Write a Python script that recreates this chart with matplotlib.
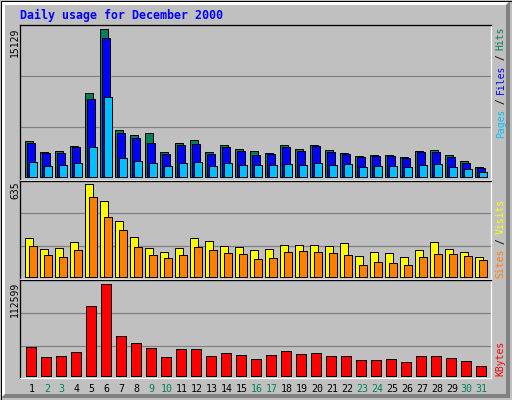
import matplotlib
matplotlib.use("Agg")
import matplotlib.pyplot as plt
from matplotlib.patches import Polygon, Rectangle

days = list(range(1, 32))
weekend = [2, 3, 9, 10, 16, 17, 23, 24, 30, 31]

hits = [3662, 2533, 2636, 3180, 8585, 15129, 4790, 4277, 4482, 2533, 3456, 3764, 2533, 3251, 2841, 2636,
        2430, 3251, 2841, 3251, 2738, 2430, 2123, 2225, 2225, 2020, 2636, 2738, 2225, 1610, 995]
files = [3456, 2430, 2430, 3046, 7970, 14226, 4482, 3970, 3456, 2328, 3251, 3354, 2328, 3046, 2636, 2225,
         2328, 3046, 2636, 3149, 2533, 2328, 2020, 2123, 2123, 1918, 2533, 2533, 2020, 1405, 892]
pages = [1508, 1097, 1200, 1405, 3046, 8175, 1918, 1610, 1405, 1097, 1405, 1508, 1097, 1405, 1200, 1200,
         1200, 1303, 1200, 1405, 1200, 1303, 995, 1097, 1097, 995, 1200, 1303, 995, 790, 482]
visits = [263, 187, 194, 236, 635, 518, 380, 270, 194, 167, 194, 263, 242, 208, 201, 180,
          187, 215, 215, 215, 208, 229, 139, 167, 160, 132, 180, 236, 187, 167, 132]
sites = [208, 146, 132, 180, 545, 408, 318, 201, 146, 125, 146, 201, 180, 160, 153, 118,
         125, 167, 174, 167, 160, 146, 77, 98, 91, 77, 132, 153, 153, 139, 112]
kbytes = [34872, 22593, 23821, 28732, 85216, 112599, 48379, 39784, 33644, 22593, 32416, 32416, 23821, 27505,
          25049, 20137, 25049, 29960, 26277, 27505, 23821, 23821, 18909, 18909, 20137, 16454, 23821, 23821,
          21365, 17682, 11542]

GREY = "#C0C0C0"
PX = 0.72  # one pixel in points at 100 dpi
MONO = "DejaVu Sans Mono"

fig = plt.figure(figsize=(5.12, 4.0), dpi=100)
fig.patch.set_facecolor(GREY)

# background axes in pixel coordinates (y down) for frame and labels
bg = fig.add_axes([0, 0, 1, 1], zorder=0)
bg.set_xlim(0, 512); bg.set_ylim(400, 0); bg.axis("off")
bg.add_patch(Rectangle((0, 0), 512, 400, color=GREY))
bg.add_patch(Polygon([(1, 1), (510, 1), (506, 5), (5, 5), (5, 394), (1, 398)], color="white", lw=0))
bg.add_patch(Polygon([(510, 1), (510, 398), (1, 398), (5, 394), (506, 394), (506, 5)], color="#808080", lw=0))
bg.add_patch(Rectangle((0.5, 0.5), 511, 399, fill=False, ec="black", lw=PX))

bg.text(20, 15, "Daily usage for December 2000", color="#0000FF", family=MONO, weight="bold",
        fontsize=8.4, ha="left", va="center")


def vlabel(parts, x, ybottom, size=7, pitch=5.5):
    k = 0
    for s, c in parts:
        yc = ybottom - (k + len(s) / 2) * pitch
        bg.text(x, yc, s, color=c, family=MONO, fontsize=size, rotation=90, ha="center", va="center")
        k += len(s)


vlabel([("Pages", "#00C0FF"), (" / ", "black"), ("Files", "#0000FF"), (" / ", "black"), ("Hits", "#00805C")],
       500.7, 137)
vlabel([("Sites", "#FF8000"), (" / ", "black"), ("Visits", "#FFFF00")], 500.7, 276.7)
vlabel([("KBytes", "#FF0000")], 500.7, 376.7, pitch=6.0)

x0, x1 = 20, 491  # panel left/right in pixels
day0 = 25         # pixel of day 1 bar start
step = 15         # pixels per day


def panel(top, bot, base, peak, vmax, grid_px, label, label_top):
    ax = fig.add_axes([x0 / 512, 1 - bot / 400, (x1 - x0) / 512, (bot - top) / 400], zorder=1)
    ax.set_facecolor("none")
    scale = vmax / (base - peak)
    ax.set_ylim(-(bot - base) * scale, (base - top) * scale)
    ax.set_xlim(1 - (day0 - x0) / step, 1 + (x1 - day0) / step)
    for g in grid_px:
        ax.axhline((base - g) * scale, color="#808080", lw=PX * 1.2, zorder=0)
    for s in ["top", "left"]:
        ax.spines[s].set_color("black")
    for s in ["bottom", "right"]:
        ax.spines[s].set_color("white")
    for s in ax.spines.values():
        s.set_linewidth(PX * 1.3)
    ax.set_yticks([])
    ax.set_xticks([])
    bg.text(15, label_top, label, family=MONO, fontsize=7, rotation=90, ha="center", va="top")
    return ax


w = 8 / step
ax1 = panel(25, 180, 177, 29.5, max(hits), [76, 127], str(max(hits)), 28)
ax1.bar(days, hits, width=w, align="edge", color="#00805C", edgecolor="black", lw=PX, zorder=2)
ax1.bar([d + 2 / step for d in days], files, width=w, align="edge", color="#0000FF", edgecolor="black", lw=PX, zorder=3)
ax1.bar([d + 4 / step for d in days], pages, width=w, align="edge", color="#00C0FF", edgecolor="black", lw=PX, zorder=4)

ax2 = panel(181, 279, 276.5, 184.3, max(visits), [213.3, 246.3], str(max(visits)), 181)
ax2.bar(days, visits, width=w, align="edge", color="#FFFF00", edgecolor="black", lw=PX, zorder=2)
ax2.bar([d + 4 / step for d in days], sites, width=w, align="edge", color="#FF8000", edgecolor="black", lw=PX, zorder=3)

ax3 = panel(280, 378, 375.7, 284, max(kbytes), [313.3, 346.3], str(max(kbytes)), 282)
ax3.bar([d + 1 / step for d in days], kbytes, width=10 / step, align="edge", color="#FF0000", edgecolor="black",
        lw=PX, zorder=2)

ax3.set_xticks([d + 0.45 for d in days])
ax3.set_xticklabels([str(d) for d in days], family=MONO, fontsize=7.2)
ax3.tick_params(axis="x", length=0, pad=4)
for lab, d in zip(ax3.get_xticklabels(), days):
    lab.set_color("#00805C" if d in weekend else "black")

fig.savefig("out.png", dpi=100)
